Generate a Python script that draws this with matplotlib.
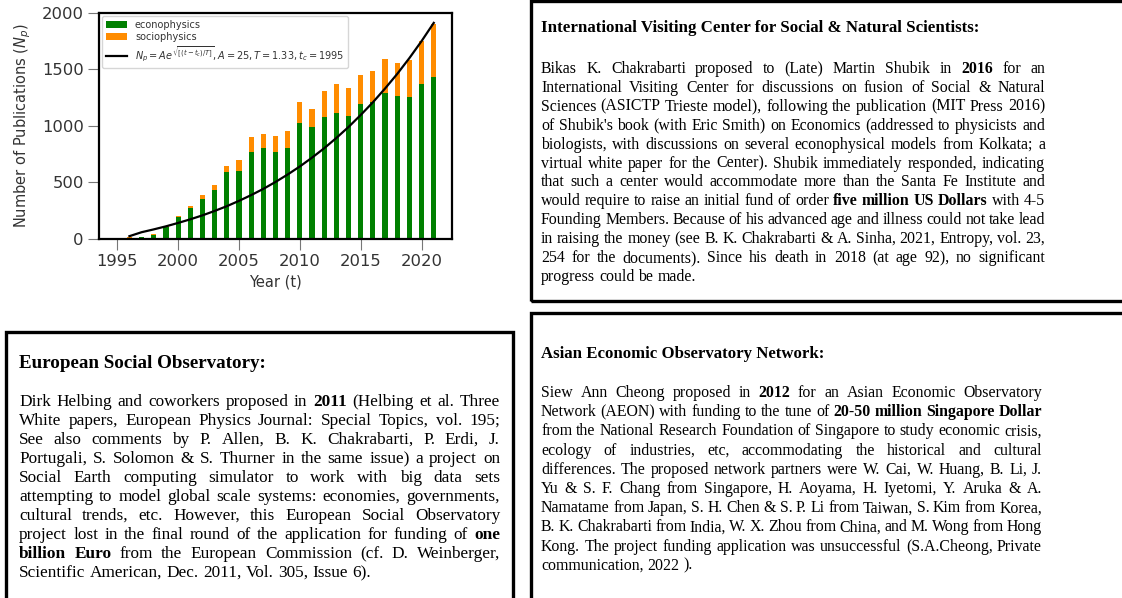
import matplotlib
matplotlib.use("Agg")
import matplotlib.pyplot as plt
from matplotlib.patches import Rectangle

# publications per year
years = list(range(1995, 2022))
econophysics = [2, 10, 14, 38, 110, 191, 270, 355, 435, 596, 605, 772, 808, 770,
                808, 1022, 993, 1081, 1116, 1087, 1189, 1213, 1292, 1266, 1257,
                1369, 1430]
sociophysics = [6, 8, 4, 3, 4, 14, 18, 35, 44, 53, 91, 127, 117, 140, 147, 188,
                158, 229, 256, 249, 256, 270, 297, 291, 329, 381, 467]

# fitted curve
fit_years = list(range(1996, 2022))
fit_values = [25, 60, 85, 112, 142, 174, 209, 248, 290, 337, 388, 443, 504, 570,
              641, 719, 802, 893, 990, 1096, 1208, 1330, 1459, 1599, 1749, 1910]

fit_label = r"$N_p = Ae^{\sqrt{[(t-t_c)/T]}}, A = 25, T = 1.33, t_c = 1995$"

head_ivc = "International Visiting Center for Social & Natural Scientists:"
text_ivc = [
    "Bikas K. Chakrabarti proposed to (Late) Martin Shubik in **2016** for an",
    "International Visiting Center for discussions on fusion of Social & Natural",
    "Sciences (ASICTP Trieste model), following the publication (MIT Press 2016)",
    "of Shubik's book (with Eric Smith) on Economics (addressed to physicists and",
    "biologists, with discussions on several econophysical models from Kolkata; a",
    "virtual white paper for the Center). Shubik immediately responded, indicating",
    "that such a center would accommodate more than the Santa Fe Institute and",
    "would require to raise an initial fund of order **five million US Dollars** with 4-5",
    "Founding Members. Because of his advanced age and illness could not take lead",
    "in raising the money (see B. K. Chakrabarti & A. Sinha, 2021, Entropy, vol. 23,",
    "254 for the documents). Since his death in 2018 (at age 92), no significant",
    "progress could be made.",
]

head_eso = "European Social Observatory:"
text_eso = [
    "Dirk Helbing and coworkers proposed in **2011** (Helbing et al. Three",
    "White papers, European  Physics Journal: Special Topics, vol. 195;",
    "See also comments by P. Allen, B. K. Chakrabarti, P. Erdi, J.",
    "Portugali, S. Solomon & S. Thurner in the same issue) a project on",
    "Social Earth computing simulator to work with big data sets",
    "attempting to model global scale systems: economies, governments,",
    "cultural trends, etc. However, this European Social Observatory",
    "project lost in the final round of the application for funding of **one**",
    "**billion Euro** from the European Commission (cf. D. Weinberger,",
    "Scientific American, Dec. 2011, Vol. 305, Issue 6).",
]

head_aeon = "Asian Economic Observatory Network:"
text_aeon = [
    "Siew Ann Cheong proposed in **2012** for an Asian Economic Observatory",
    "Network (AEON) with funding to the tune of **20-50 million Singapore Dollar**",
    "from the National Research Foundation of Singapore to study economic crisis,",
    "ecology of industries, etc, accommodating the  historical and cultural",
    "differences. The proposed network partners were W.  Cai, W.  Huang, B. Li, J.",
    "Yu & S. F. Chang from Singapore, H. Aoyama, H. Iyetomi, Y. Aruka & A.",
    "Namatame from Japan, S. H. Chen & S. P. Li from Taiwan, S. Kim from Korea,",
    "B. K. Chakrabarti from India, W. X. Zhou from China, and M. Wong from Hong",
    "Kong. The project funding application was unsuccessful (S.A.Cheong, Private",
    "communication, 2022 ).",
]

W, H = 1122, 598
fig = plt.figure(figsize=(W / 100, H / 100), dpi=100)
serif = "Liberation Serif"


def fx(x):
    return x / W


def fy(y):
    return 1 - y / H


# ---- chart ----
ax = fig.add_axes([fx(99), fy(239), fx(452) - fx(99), (239 - 12.7) / H])
ax.bar(years, econophysics, width=0.42, color="green", label="econophysics", zorder=2)
ax.bar(years, sociophysics, width=0.42, bottom=econophysics, color="darkorange",
       label="sociophysics", zorder=2)
ax.plot(fit_years, fit_values, color="black", lw=1.6, label=fit_label, zorder=3)
ax.set_xlim(1993.5, 2022.5)
ax.set_ylim(0, 2000)
ax.set_xticks([1995, 2000, 2005, 2010, 2015, 2020])
ax.set_yticks([0, 500, 1000, 1500, 2000])
ax.tick_params(length=8, width=0.8, color="#777777", labelsize=11.8,
               labelcolor="#333333", pad=3)
for s in ax.spines.values():
    s.set_linewidth(1.6)
ax.set_xlabel("Year (t)", fontsize=10.5, color="#333333", labelpad=4)
ax.set_ylabel("Number of Publications ($N_p$)", fontsize=10.5, color="#333333",
              labelpad=6)
h, l = ax.get_legend_handles_labels()
order = [l.index("econophysics"), l.index("sociophysics"), l.index(fit_label)]
leg = ax.legend([h[i] for i in order], [l[i] for i in order], loc="upper left",
                fontsize=7, frameon=True, borderpad=0.4, labelspacing=0.25,
                handlelength=2.2, borderaxespad=0.3)
for t in leg.get_texts():
    t.set_color("#333333")

# ---- boxes ----
for (x0, y0, x1, y1) in [(531, 1, 1130, 301), (531, 313, 1130, 610), (6, 332, 513, 610)]:
    fig.add_artist(Rectangle((fx(x0), fy(y1)), fx(x1) - fx(x0), fy(y0) - fy(y1),
                             transform=fig.transFigure, fill=False, lw=2.4,
                             edgecolor="black", clip_on=False))

fig.canvas.draw()
renderer = fig.canvas.get_renderer()


def paragraph(lines, x0, x1, y_first, dy, size):
    space = size * 100 / 72 * 0.25
    for i, line in enumerate(lines):
        words = []
        for j, seg in enumerate(line.split("**")):
            for w in seg.split():
                words.append((w, j % 2 == 1))
        y = y_first + i * dy
        arts = []
        for w, b in words:
            t = fig.text(0, fy(y), w, fontsize=size, family=serif,
                         fontweight="bold" if b else "normal", va="baseline",
                         ha="left", color="black")
            arts.append((t, t.get_window_extent(renderer).width))
        total = sum(wd for _, wd in arts)
        if i < len(lines) - 1 and len(arts) > 1:
            gap = (x1 - x0 - total) / (len(arts) - 1)
        else:
            gap = space
        x = x0
        for t, wd in arts:
            t.set_x(fx(x))
            x += wd + gap


fig.text(fx(541), fy(32), head_ivc, fontsize=12.2, family=serif, fontweight="bold",
         va="baseline", color="black")
paragraph(text_ivc, 541, 1045, 73, 18.9, 11.4)

fig.text(fx(19), fy(368), head_eso, fontsize=13.7, family=serif, fontweight="bold",
         va="baseline", color="black")
paragraph(text_eso, 19, 500, 406, 19.0, 12.4)

fig.text(fx(541), fy(358), head_aeon, fontsize=12.1, family=serif, fontweight="bold",
         va="baseline", color="black")
paragraph(text_aeon, 541, 1042, 397, 19.2, 11.4)

fig.savefig("out.png", dpi=100)
